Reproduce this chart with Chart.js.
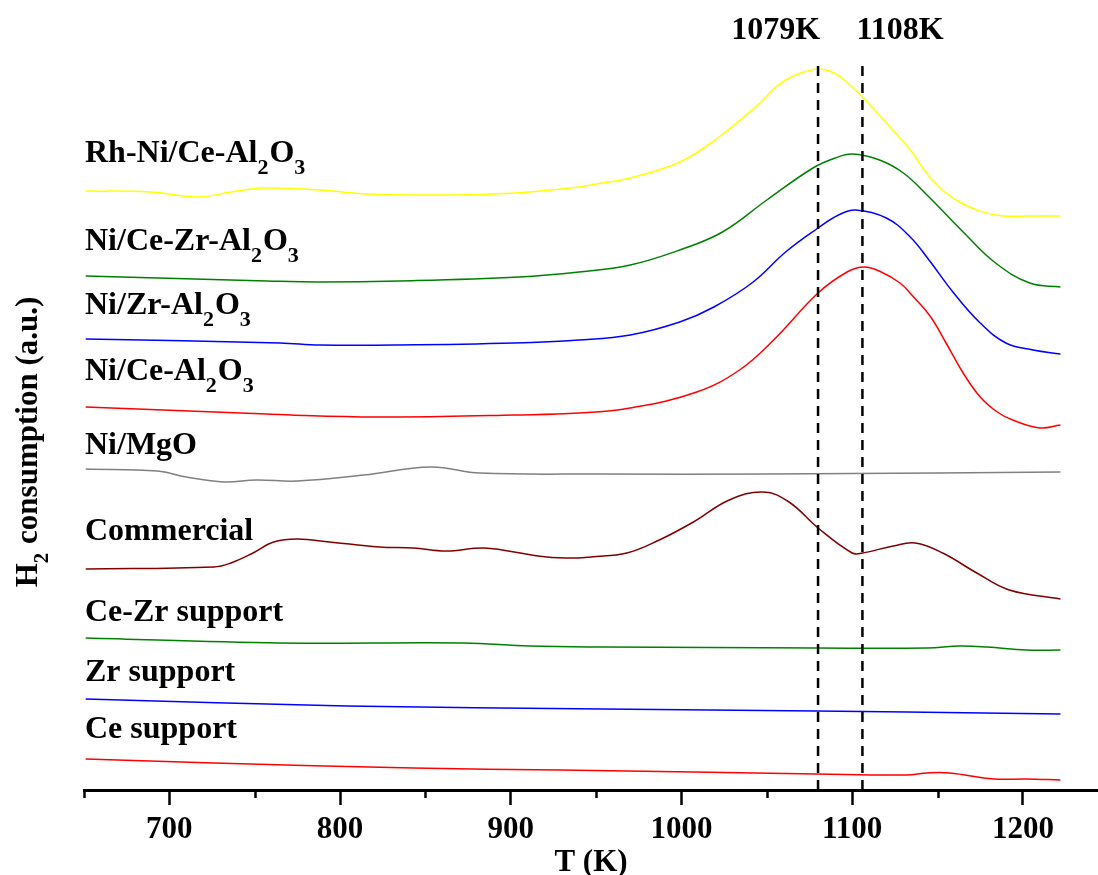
<!DOCTYPE html>
<html>
<head>
<meta charset="utf-8">
<script src="https://cdn.jsdelivr.net/npm/chart.js@4.4.0/dist/chart.umd.min.js"></script>
<style>
  html, body { margin: 0; padding: 0; background: #fff; }
</style>
</head>
<body>
<canvas id="tpr" width="1098" height="875"></canvas>
<script>
/** H2-TPR PROFILES **/

// temperature (K) and H2 signal (a.u., stacked offsets) for each sample
const rhNiT  = [651, 689, 716, 736, 755, 788, 816, 860, 890, 911, 940, 954, 970, 999, 1022, 1046, 1054, 1061, 1070, 1080, 1088, 1094, 1106, 1120, 1134, 1147, 1163, 1184, 1204, 1222];
const rhNiH2 = [599, 598, 593, 598, 602, 600, 596, 595, 596, 598, 603, 607, 612, 628, 653, 687, 701, 710, 717, 721, 718, 712, 693, 667, 640, 610, 588, 575, 574, 574];

const ceZrAlT  = [651, 757, 788, 835, 905, 940, 970, 999, 1024, 1050, 1077, 1090, 1100, 1116, 1130, 1145, 1165, 1184, 1204, 1222];
const ceZrAlH2 = [514, 509, 508, 509, 513, 518, 525, 540, 558, 590, 622, 632, 636, 630, 617, 593, 558, 527, 507, 503];

const zrAlT  = [651, 765, 788, 835, 902, 940, 970, 999, 1019, 1042, 1061, 1080, 1092, 1102, 1120, 1134, 1145, 1159, 1175, 1190, 1206, 1222];
const zrAlH2 = [451, 447, 445, 445, 447, 450, 455, 468, 483, 508, 538, 562, 575, 580, 572, 553, 530, 498, 467, 447, 440, 436];

const ceAlT  = [651, 757, 788, 835, 902, 940, 970, 1009, 1034, 1054, 1080, 1097, 1107, 1117, 1128, 1136, 1146, 1155, 1165, 1175, 1185, 1194, 1210, 1222];
const ceAlH2 = [383, 376, 374, 373, 375, 377, 382, 398, 420, 450, 497, 518, 523, 518, 507, 493, 473, 447, 417, 393, 378, 370, 362, 365];

const mgoT  = [651, 693, 710, 732, 751, 775, 814, 853, 882, 954, 1050, 1150, 1222];
const mgoH2 = [321, 319, 313, 308, 310, 309, 315, 323, 317, 316, 316, 317, 318];

const commT  = [651, 726, 736, 749, 761, 775, 794, 823, 843, 862, 884, 902, 921, 939, 947, 968, 987, 1007, 1028, 1048, 1063, 1080, 1100, 1106, 1124, 1137, 1153, 1173, 1192, 1222];
const commH2 = [221, 223, 227, 237, 248, 251, 248, 243, 242, 239, 242, 238, 233, 232, 233, 237, 250, 268, 290, 298, 288, 262, 237, 237, 244, 247, 237, 217, 200, 191];

const ceZrSupT  = [651, 765, 872, 911, 954, 1079, 1144, 1163, 1179, 1202, 1222];
const ceZrSupH2 = [152, 147, 147, 144, 143, 142, 142, 144, 143, 140, 140];

const zrSupT  = [651, 804, 954, 1079, 1132, 1222];
const zrSupH2 = [91, 84, 81, 79, 78, 76];

const ceSupT  = [651, 726, 843, 929, 1007, 1079, 1132, 1144, 1157, 1183, 1202, 1222];
const ceSupH2 = [31, 27, 22, 20, 18, 16, 15, 17, 17, 11, 11, 10];

// sample names, top to bottom ("_" = next char is subscript)
const sampleNames = ['Rh-Ni/Ce-Al_2O_3', 'Ni/Ce-Zr-Al_2O_3', 'Ni/Zr-Al_2O_3', 'Ni/Ce-Al_2O_3', 'Ni/MgO',
                     'Commercial', 'Ce-Zr support', 'Zr support', 'Ce support'];

const peakTemps  = [1080, 1106];
const peakLabels = ['1079K', '1108K'];

const xTicks     = [700, 800, 900, 1000, 1100, 1200];
const xMinorTick = [650, 750, 850, 950, 1050, 1150];

// ---- styling / layout ----
const SERIF = '"Liberation Serif", "Times New Roman", serif';
const lineColors = ['#ffff00', '#008000', '#0000ff', '#ff0000', '#808080', '#800000', '#008000', '#0000ff', '#ff0000'];
const labelBaseY = [162, 250, 314, 380, 454, 540, 621, 681, 738];

function pts(ts, vs) {
    return ts.map(function (t, i) { return { x: t, y: vs[i] }; });
}

const curves = [
    pts(rhNiT, rhNiH2), pts(ceZrAlT, ceZrAlH2), pts(zrAlT, zrAlH2), pts(ceAlT, ceAlH2), pts(mgoT, mgoH2),
    pts(commT, commH2), pts(ceZrSupT, ceZrSupH2), pts(zrSupT, zrSupH2), pts(ceSupT, ceSupH2)
];

var datasets = peakTemps.map(function (t) {
    return {
        data: [{ x: t, y: 0 }, { x: t, y: 725 }],
        borderColor: '#000',
        borderWidth: 2.5,
        borderDash: [10, 7],
        tension: 0
    };
});
curves.forEach(function (c, i) {
    datasets.push({
        label: sampleNames[i],
        data: c,
        borderColor: lineColors[i],
        borderWidth: 1.5,
        tension: 0.4
    });
});

function splitSub(str) {
    var out = [], buf = '';
    for (var i = 0; i < str.length; i++) {
        if (str[i] === '_') {
            if (buf) out.push({ t: buf, sub: false });
            buf = '';
            out.push({ t: str[i + 1], sub: true });
            i++;
        } else {
            buf += str[i];
        }
    }
    if (buf) out.push({ t: buf, sub: false });
    return out;
}

function drawRich(ctx, str, x, y, size, measureOnly) {
    var subSize = Math.round(size * 0.68);
    var cx = x;
    splitSub(str).forEach(function (p) {
        ctx.font = 'bold ' + (p.sub ? subSize : size) + 'px ' + SERIF;
        if (!measureOnly) ctx.fillText(p.t, cx, p.sub ? y + size * 0.36 : y);
        cx += ctx.measureText(p.t).width + (p.sub ? 1 : 0);
    });
    return cx - x;
}

const annotations = {
    id: 'annotations',
    afterDraw: function (chart) {
        var ctx = chart.ctx;
        var xs = chart.scales.x;
        var area = chart.chartArea;
        ctx.save();
        ctx.fillStyle = '#000';
        ctx.textBaseline = 'alphabetic';
        ctx.textAlign = 'left';

        // sample names
        sampleNames.forEach(function (n, i) {
            drawRich(ctx, n, 85, labelBaseY[i], 32);
        });

        // peak temperature labels
        ctx.font = 'bold 32px ' + SERIF;
        ctx.textAlign = 'right';
        ctx.fillText(peakLabels[0], xs.getPixelForValue(peakTemps[0]) + 2, 39);
        ctx.textAlign = 'left';
        ctx.fillText(peakLabels[1], xs.getPixelForValue(peakTemps[1]) - 6, 39);

        // y title, rotated
        ctx.save();
        ctx.translate(37, 442);
        ctx.rotate(-Math.PI / 2);
        var w = drawRich(ctx, 'H_2 consumption (a.u.)', 0, 0, 31, true);
        drawRich(ctx, 'H_2 consumption (a.u.)', -w / 2, 0, 31);
        ctx.restore();

        // minor ticks
        ctx.strokeStyle = '#000';
        ctx.lineWidth = 2.5;
        xMinorTick.forEach(function (v) {
            var px = Math.round(xs.getPixelForValue(v)) + 0.5;
            ctx.beginPath();
            ctx.moveTo(px, area.bottom);
            ctx.lineTo(px, area.bottom + 8);
            ctx.stroke();
        });
        ctx.restore();
    }
};

var tprChart = new Chart(document.getElementById('tpr'), {
    type: 'line',
    data: { datasets: datasets },
    options: {
        responsive: false,
        animation: false,
        events: [],
        layout: { padding: { left: 84, top: 65, right: 0, bottom: 0 } },
        elements: { point: { radius: 0 } },
        plugins: {
            legend: { display: false },
            tooltip: { enabled: false }
        },
        scales: {
            x: {
                type: 'linear',
                min: 650,
                max: 1244,
                afterBuildTicks: function (s) { s.ticks = xTicks.map(function (v) { return { value: v }; }); },
                afterFit: function (s) { s.height = 85; },
                grid: { drawOnChartArea: false, tickLength: 15, tickWidth: 2.5, tickColor: '#000' },
                border: { color: '#000', width: 3 },
                ticks: {
                    color: '#000',
                    padding: 6,
                    maxRotation: 0,
                    font: { family: SERIF, size: 31, weight: 'bold' },
                    callback: function (v) { return String(v); }
                },
                title: {
                    display: true,
                    text: 'T (K)',
                    color: '#000',
                    padding: 0,
                    font: { family: SERIF, size: 31, weight: 'bold', lineHeight: 0.8 }
                }
            },
            y: { display: false, min: 0, max: 725 }
        }
    },
    plugins: [annotations]
});
</script>
</body>
</html>
